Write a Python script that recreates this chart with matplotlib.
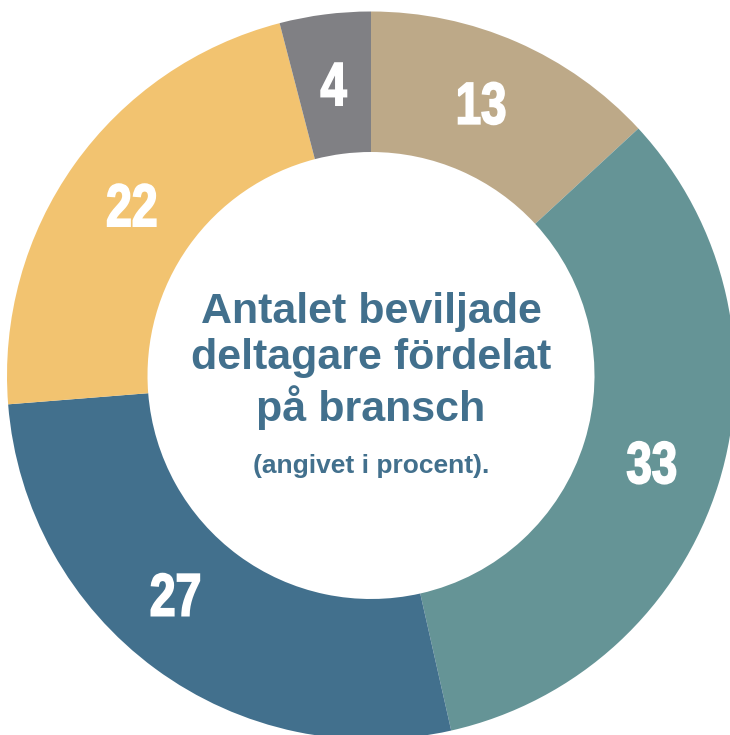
import numpy as np
import matplotlib
matplotlib.use("Agg")
import matplotlib.pyplot as plt
from matplotlib.textpath import TextPath
from matplotlib.patches import PathPatch
from matplotlib.font_manager import FontProperties
from matplotlib.transforms import Affine2D

# shares per branch (percent), clockwise from top
values = [13, 33, 27, 22, 4]
labels = ["13", "33", "27", "22", "4"]
colors = ["#BDA988", "#659496", "#42708D", "#F2C370", "#808084"]
label_nudge = [1.5, 0, -5.4, 0, 0]   # degrees, label placement tweak
title = "Antalet beviljade\ndeltagare fördelat\npå bransch"
subtitle = "(angivet i procent)."
text_color = "#42708D"

fig = plt.figure(figsize=(7.30, 7.35), dpi=100)
ax = fig.add_axes([0, 0, 1, 1])

wedges, _ = ax.pie(values, colors=colors, startangle=90, counterclock=False,
                   radius=1.0, wedgeprops=dict(width=0.386, edgecolor="none"))

# condensed heavy numbers: bold glyph outlines squeezed horizontally
fp = FontProperties(family="Liberation Sans", weight="bold")
digit_h = 42 / 364   # digit height in data units
squeeze = 0.77
for w, lab, nd in zip(wedges, labels, label_nudge):
    mid = np.deg2rad((w.theta1 + w.theta2) / 2 + nd)
    cx, cy = 0.807 * np.cos(mid), 0.807 * np.sin(mid)
    tp = TextPath((0, 0), lab, size=1, prop=fp)
    ext = tp.get_extents()
    s = digit_h / ext.height
    tr = (Affine2D().translate(-(ext.x0 + ext.x1) / 2, -(ext.y0 + ext.y1) / 2)
          .scale(s * squeeze, s).translate(cx, cy))
    ax.add_patch(PathPatch(tr.transform_path(tp), facecolor="white",
                           edgecolor="white", lw=1.3))

ax.text(0.0, 0.04, title, ha="center", va="center", fontsize=31,
        fontweight="bold", color=text_color, family="Liberation Sans",
        linespacing=1.2)
ax.text(0.0, -0.25, subtitle, ha="center", va="center", fontsize=19,
        fontweight="bold", color=text_color, family="Liberation Sans")

# centre at pixel (371, 375.5), outer radius ~364 px
ax.set_xlim(-371 / 364, (730 - 371) / 364)
ax.set_ylim(-(735 - 375.5) / 364, 375.5 / 364)
ax.axis("off")

fig.savefig("out.png", dpi=100)
